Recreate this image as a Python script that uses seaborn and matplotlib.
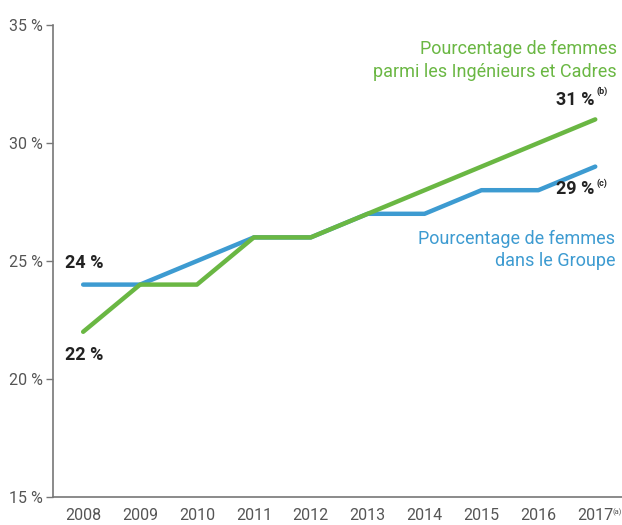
import pandas as pd
import seaborn as sns
import matplotlib.pyplot as plt

# Data
years = [2008, 2009, 2010, 2011, 2012, 2013, 2014, 2015, 2016, 2017]
groupe = [24, 24, 25, 26, 26, 27, 27, 28, 28, 29]
ing_cadres = [22, 24, 24, 26, 26, 27, 28, 29, 30, 31]
y_ticks = [15, 20, 25, 30, 35]

green = '#6ab743'
blue = '#3d9bd1'
grey = '#555555'

sns.set_style('white')
plt.rcParams['font.family'] = ['Roboto', 'DejaVu Sans']

df = pd.DataFrame({'year': years, 'Groupe': groupe, 'Ingenieurs': ing_cadres})

fig = plt.figure(figsize=(6.22, 5.25), dpi=100)
ax = fig.add_axes([53/622, 28/525, 569/622, 472/525])

sns.lineplot(data=df, x='year', y='Groupe', color=blue, linewidth=3.2, ax=ax)
sns.lineplot(data=df, x='year', y='Ingenieurs', color=green, linewidth=3.2, ax=ax)

ax.set_xlim(2007.47, 2017.47)
ax.set_ylim(15, 35)
ax.set_xticks(years)
ax.set_xticklabels([str(y) for y in years], fontsize=11.5, color=grey)
ax.set_yticks(y_ticks)
ax.set_yticklabels([f'{t} %' for t in y_ticks], fontsize=11.5, color=grey)
ax.tick_params(axis='y', length=5, width=1, color='#777777', pad=2, left=True)
ax.tick_params(axis='x', length=0, pad=8)
ax.set_xlabel('')
ax.set_ylabel('')
for s in ['top', 'right']:
    ax.spines[s].set_visible(False)
for s in ['left', 'bottom']:
    ax.spines[s].set_color('#777777')
    ax.spines[s].set_linewidth(1.2)

# value labels
lbl = dict(fontsize=13, fontweight='bold', color='#222222')
ax.text(years[0] - 0.32, groupe[0] + 0.55, '24 %', va='bottom', **lbl)
ax.text(years[0] - 0.32, ing_cadres[0] - 0.6, '22 %', va='top', **lbl)
ax.text(years[-1] - 0.02, ing_cadres[-1] + 0.45, '31 %', ha='right', va='bottom', **lbl)
ax.text(years[-1] + 0.02, ing_cadres[-1] + 1.0, '(b)', fontsize=6.5, fontweight='bold', color='#222222', ha='left', va='bottom')
ax.text(years[-1] - 0.02, groupe[-1] - 0.55, '29 %', ha='right', va='top', **lbl)
ax.text(years[-1] + 0.02, groupe[-1] - 0.5, '(c)', fontsize=6.5, fontweight='bold', color='#222222', ha='left', va='top')

# series labels
ax.text(2017.38, 33.5, 'Pourcentage de femmes\nparmi les Ingénieurs et Cadres', fontsize=13, color=green,
        ha='right', va='center', linespacing=1.35)
ax.text(2017.35, 25.47, 'Pourcentage de femmes\ndans le Groupe', fontsize=13, color=blue,
        ha='right', va='center', linespacing=1.35)

# footnote on last tick
ax.annotate('(a)', xy=(2017.3, 0), xycoords=('data', 'axes fraction'), xytext=(0, -8),
            textcoords='offset points', fontsize=5.5, color=grey, ha='left', va='top')

fig.savefig('out.png', dpi=100)
